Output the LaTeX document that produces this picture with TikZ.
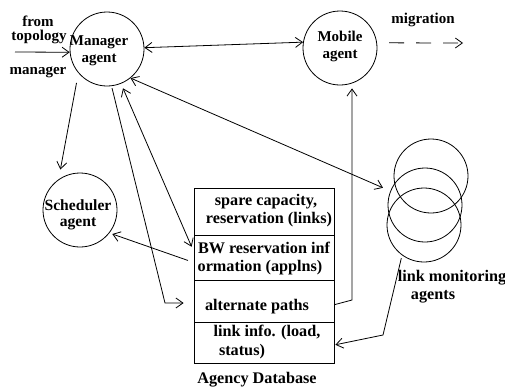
\documentclass[tikz,border=0pt]{standalone}
\usepackage{fontspec}
\setmainfont{Liberation Serif}
\usetikzlibrary{arrows.meta}
\begin{document}
\begin{tikzpicture}[x=1pt,y=-1pt,
  every node/.style={font=\bfseries\fontsize{15}{17}\selectfont, inner sep=0pt},
  big/.style={font=\bfseries\fontsize{16.2}{18}\selectfont},
  agent/.style={draw, circle, line width=0.8pt, minimum size=74pt},
  cell/.style={draw, rectangle, line width=0.8pt, minimum width=140pt},
  conn/.style={line width=0.8pt},
  >={Straight Barb[length=7pt,width=10pt]}]
\useasboundingbox (0,0) rectangle (505,389);

% agents
\node[agent] (mgr) at (107,49) {};
\node[agent] (mob) at (340,48) {};
\node[agent] (sch) at (80,210) {};
\node[agent] (lm1) at (431,176) {};
\node[agent] (lm2) at (425,205) {};
\node[agent] (lm3) at (424,225) {};

% database
\node[cell, minimum height=47pt] (row1) at (264,211.5) {};
\node[cell, minimum height=45pt] (row2) at (264,257.5) {};
\node[cell, minimum height=42pt] (row3) at (264,301) {};
\node[cell, minimum height=41pt] (row4) at (264,342.5) {};

% texts
\node (tfrom) at (38,21.5) {from};
\node (ttopo) at (39,37) {topology};
\node (tmanager) at (38,72) {manager};
\node[align=center] (mgrt) at (99,51) {Manager\\agent};
\node[align=center] (mobt) at (340,46) {Mobile\\agent};
\node[align=center,font=\bfseries\fontsize{15.6}{16.5}\selectfont] (scht) at (78,215) {Scheduler\\agent};
\node (tmig) at (423,20) {migration};
\node[big] (r1a) at (266,202) {spare capacity,};
\node[big] (r1b) at (269,220) {reservation (links)};
\node[big] (r2a) at (264,248) {BW reservation inf};
\node[big] (r2b) at (260,268) {ormation (applns)};
\node[big] (r3a) at (257,307) {alternate paths};
\node[big] (r4a) at (267,333) {link info. (load,};
\node[big] (r4b) at (242,352) {status)};
\node[big] (tdb) at (257,380) {Agency Database};
\node[big] (lma) at (452,278) {link monitoring};
\node[big] (lmb) at (433,297) {agents};

% coordinates
\coordinate (ftm) at (15,52);
\coordinate (mig) at (463,43);
\coordinate (b2) at (165,303);
\coordinate (b3) at (352,300);
\coordinate (b4) at (383,335);

% connectors
\draw[conn,->] (ftm) -- (mgr.185);
\draw[conn,<->] (mgr.2) -- (mob.171);
\draw[conn,->,dashed,dash pattern=on 15pt off 12pt,shorten <=12pt] (mob.8) -- (mig);
\draw[conn,<->,shorten >=8pt] (mgr.-51) -- (lm2.158);
\draw[conn,->,shorten <=10pt,shorten >=10pt] (mgr.-140) -- (sch.125);
\draw[conn,<->,shorten <=5pt,shorten >=5pt] (mgr.-68) -- (row2.175.5);
\draw[conn,->,shorten <=2pt,shorten >=10pt] (mgr.-83) -- (b2) -- (b2 -| row3.west);
\draw[conn,->,shorten <=6pt,shorten >=3pt] (row2.184) -- (sch.-38);
\draw[conn,->,shorten >=3pt] (row3.-3.5) -- (b3) -- (b3 |- mob.south);
\draw[conn,->,shorten <=3pt,shorten >=1pt] (lm3.-126) -- (b4) -- (row4.-2);
\end{tikzpicture}
\end{document}
